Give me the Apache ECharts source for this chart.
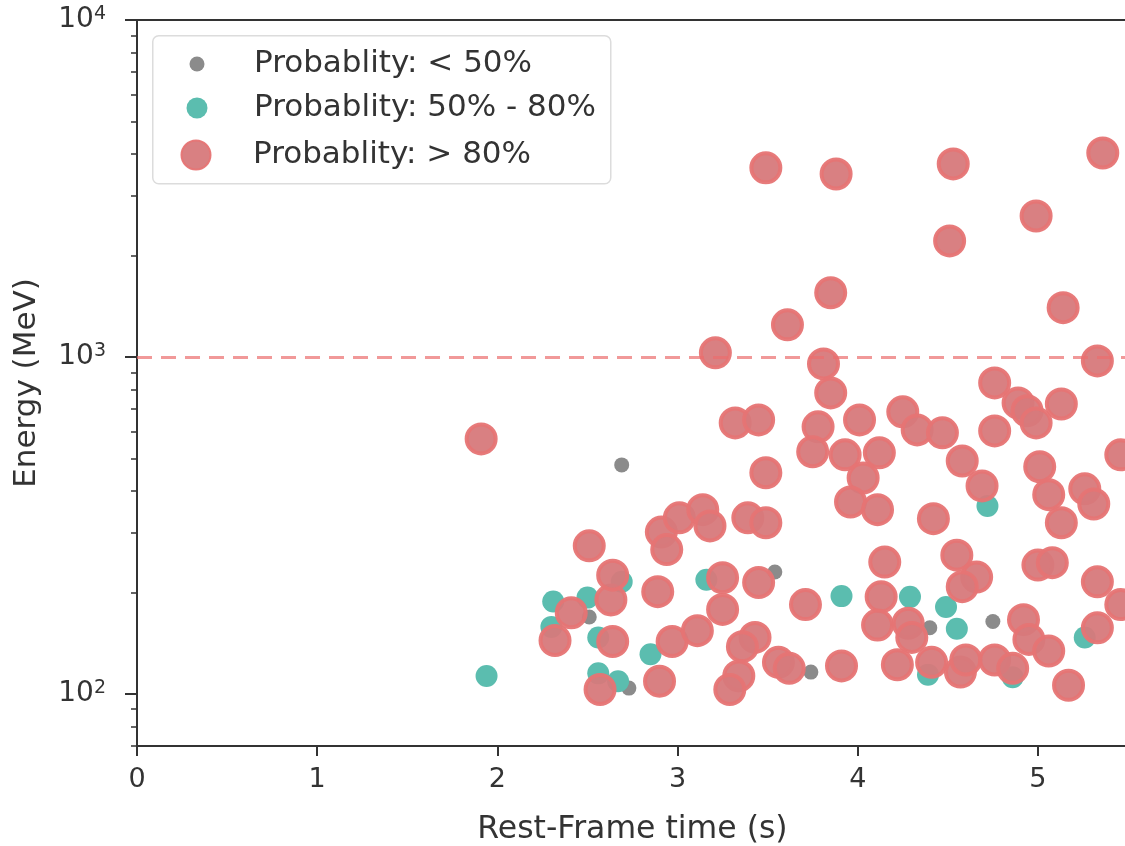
<!DOCTYPE html>
<html>
<head>
<meta charset="utf-8">
<script src="https://cdn.jsdelivr.net/npm/echarts@6.0.0/dist/echarts.min.js"></script>
<style>html,body{margin:0;padding:0;background:#fff;}#c{width:1125px;height:846px;}</style>
</head>
<body>
<div id="c"></div>
<script>
// ---- data ----
const seriesNames = ['Probablity: < 50%', 'Probablity: 50% - 80%', 'Probablity: > 80%'];

const lowTime   = [2.69, 2.51, 2.73, 3.54, 3.74, 4.40, 4.75];
const lowEnergy = [478, 169, 104, 230, 116, 157, 164];

const midTime   = [1.94, 2.31, 2.30, 2.50, 2.69, 2.56, 2.56, 2.67, 2.85, 3.16, 3.91, 4.29, 4.49, 4.55, 4.72, 4.39, 5.26, 4.86];
const midEnergy = [113, 188, 158, 193, 215, 147, 115, 109, 131, 218, 195, 194, 181, 156, 361, 114, 147, 112];

const highTime = [1.91, 3.49, 3.88, 4.53, 5.36, 4.51, 4.99, 3.85, 5.14, 3.61, 3.21, 3.81, 5.33, 3.85, 4.76,
  3.32, 3.45, 3.78, 4.01, 4.25, 4.33, 4.47, 4.76, 4.89, 4.94, 4.99, 5.13, 3.49, 3.75, 3.93,
  4.12, 4.58, 4.03, 4.69, 5.01, 5.46, 3.96, 4.11, 5.06, 5.26, 5.31, 4.42, 5.13, 2.51, 2.91,
  3.01, 3.14, 3.18, 2.94, 3.39, 3.49, 4.15, 4.55, 4.66, 4.58, 5.00, 5.08, 5.33, 5.46, 3.71,
  4.13, 4.11, 4.28, 4.30, 4.92, 4.95, 5.06, 5.33, 5.17, 3.91, 3.56, 3.62, 4.22, 4.41, 4.57,
  4.60, 4.76, 4.86, 2.32, 2.41, 2.63, 2.64, 2.64, 2.57, 2.89, 2.90, 2.97, 3.11, 3.25, 3.25,
  3.45, 3.43, 3.36, 3.34, 3.29];
const highEnergy = [571, 3640, 3490, 3740, 4030, 2210, 2620, 1550, 1400, 1245, 1028, 953, 973, 782, 837,
  637, 650, 620, 650, 687, 607, 595, 603, 730, 692, 637, 725, 453, 523, 512,
  519, 491, 437, 414, 472, 512, 371, 352, 390, 406, 366, 331, 322, 275, 302,
  333, 352, 315, 268, 333, 322, 246, 258, 222, 208, 241, 245, 215, 184, 184,
  194, 160, 162, 147, 166, 145, 134, 157, 106, 121, 124, 119, 122, 124, 116,
  126, 126, 119, 144, 174, 190, 225, 143, 103, 201, 109, 143, 154, 221, 178,
  214, 147, 138, 113, 103];

const thresholdEnergy = 1000;
const xTicks = [0, 1, 2, 3, 4, 5];
const yMajorTicks = [100, 1000, 10000];
const yMinorTicks = [70, 80, 90, 200, 300, 400, 500, 600, 700, 800, 900, 2000, 3000, 4000, 5000, 6000, 7000, 8000, 9000];

// ---- chart ----
const zip = (a, b) => a.map((v, i) => [v, b[i]]);
const TXT = '#333333';
const FONT = 'DejaVu Sans';

const chart = echarts.init(document.getElementById('c'), null, {renderer: 'canvas', width: 1125, height: 846});

const legendBase = {
  padding: 0, itemWidth: 104, icon: 'circle', selectedMode: false,
  textStyle: {fontSize: 31, color: TXT, fontFamily: FONT, lineHeight: 36}
};

chart.setOption({
  animation: false,
  backgroundColor: '#ffffff',
  textStyle: {fontFamily: FONT},
  grid: {left: 137, right: -3, top: 20, bottom: 100, outerBoundsMode: 'none', containLabel: false},
  xAxis: [{
    type: 'value', min: 0, max: 5.5, interval: 1,
    axisLine: {lineStyle: {color: TXT, width: 2}},
    axisTick: {length: 10, lineStyle: {color: TXT, width: 2}, customValues: xTicks},
    axisLabel: {fontSize: 27, color: TXT, margin: 20, customValues: xTicks},
    splitLine: {show: false},
    name: 'Rest-Frame time (s)', nameLocation: 'middle', nameGap: 68,
    nameTextStyle: {fontSize: 31.5, color: TXT, fontFamily: FONT}
  }, {
    type: 'value', position: 'top', min: 0, max: 5.5,
    axisLine: {lineStyle: {color: TXT, width: 2}},
    axisTick: {show: false}, axisLabel: {show: false}, splitLine: {show: false}
  }],
  yAxis: [{
    type: 'log', logBase: 10, min: 70, max: 10000,
    axisLine: {lineStyle: {color: TXT, width: 2}},
    axisTick: {length: 12, lineStyle: {color: TXT, width: 2}, customValues: yMajorTicks},
    axisLabel: {
      customValues: yMajorTicks, margin: 31,
      formatter: v => '{b|10}{s|' + Math.round(Math.log10(v)) + '}',
      rich: {
        b: {fontSize: 28, color: TXT, fontFamily: FONT, lineHeight: 30},
        s: {fontSize: 19, color: TXT, fontFamily: FONT, verticalAlign: 'top', lineHeight: 14}
      }
    },
    splitLine: {show: false},
    name: 'Energy (MeV)', nameLocation: 'middle', nameGap: 95,
    nameTextStyle: {fontSize: 31, color: TXT, fontFamily: FONT}
  }, {
    type: 'log', logBase: 10, min: 70, max: 10000, position: 'left',
    axisLine: {show: false},
    axisTick: {length: 6, lineStyle: {color: TXT, width: 1.5}, customValues: yMinorTicks},
    axisLabel: {show: false}, splitLine: {show: false}
  }],
  legend: [
    Object.assign({}, legendBase, {data: [seriesNames[0]], left: 189.5, top: 46, itemHeight: 15}),
    Object.assign({}, legendBase, {data: [seriesNames[1]], left: 186.5, top: 90, itemHeight: 21}),
    Object.assign({}, legendBase, {data: [seriesNames[2]], left: 180.5, top: 137, itemHeight: 29})
  ],
  graphic: [{
    type: 'rect', left: 152, top: 35, z: 3,
    shape: {width: 458, height: 148, r: 6},
    style: {fill: 'rgba(255,255,255,0.85)', stroke: '#dcdcdc', lineWidth: 1.5}
  }],
  series: [{
    type: 'scatter', name: seriesNames[0], data: zip(lowTime, lowEnergy),
    symbolSize: 15, itemStyle: {color: '#8b8b8b', opacity: 1}
  }, {
    type: 'scatter', name: seriesNames[1], data: zip(midTime, midEnergy),
    symbolSize: 22, itemStyle: {color: '#5bbdaf', opacity: 1}
  }, {
    type: 'scatter', name: seriesNames[2], data: zip(highTime, highEnergy),
    symbolSize: 29,
    itemStyle: {color: '#d7797b', borderColor: '#e67474', borderWidth: 4, opacity: 0.95},
    markLine: {
      silent: true, symbol: 'none', label: {show: false},
      lineStyle: {color: 'rgba(235,110,110,0.7)', type: [15, 9], width: 3},
      data: [{yAxis: thresholdEnergy}]
    }
  }]
});
</script>
</body>
</html>
